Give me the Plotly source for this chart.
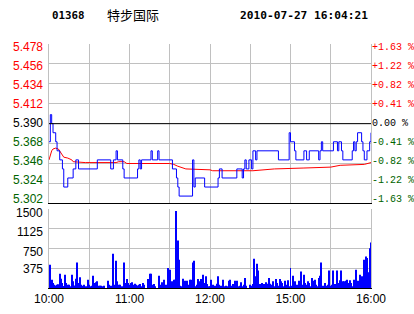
import plotly.graph_objects as go

stock_code = "01368"
stock_name = "特步国际"
stamp = "2010-07-27 16:04:21"
prev_close = 5.390

price_ticks = [5.302, 5.324, 5.346, 5.368, 5.390, 5.412, 5.434, 5.456, 5.478]
pct_labels = ["-1.63 %", "-1.22 %", "-0.82 %", "-0.41 %", "0.00 %",
              "+0.41 %", "+0.82 %", "+1.22 %", "+1.63 %"]
vol_ticks = [375, 750, 1125, 1500]
time_ticks = [0, 30, 60, 90, 120, 150, 180, 210, 240]
time_labels = ["10:00", "", "11:00", "", "12:00", "", "15:00", "", "16:00"]

# price change points (trading minute from 10:00, price)
price_min = [0, 1, 2, 3, 5, 6, 8, 10, 11, 14, 18, 20, 22, 36, 46, 48, 50, 51, 55, 56,
             66, 67, 68, 69, 76, 77, 81, 82, 92, 95, 96, 97, 107, 108, 109, 116, 126, 127, 129, 140,
             144, 145, 146, 147, 149, 151, 152, 154, 155, 171, 179, 180, 183, 184, 190, 192, 194, 201, 202, 203,
             204, 212, 215, 216, 218, 219, 226, 227, 228, 229, 230, 233, 234, 235, 237, 239, 240]
price_val = [5.37, 5.40, 5.39, 5.38, 5.37, 5.36, 5.35, 5.34, 5.32, 5.33, 5.34, 5.35, 5.34, 5.35, 5.34, 5.35, 5.36, 5.35, 5.34, 5.33,
             5.34, 5.35, 5.34, 5.35, 5.36, 5.35, 5.36, 5.35, 5.34, 5.33, 5.32, 5.31, 5.35, 5.32, 5.33, 5.32, 5.33, 5.34, 5.33, 5.34,
             5.33, 5.34, 5.35, 5.34, 5.35, 5.34, 5.36, 5.35, 5.36, 5.35, 5.38, 5.37, 5.36, 5.35, 5.36, 5.35, 5.36, 5.35, 5.36, 5.37,
             5.36, 5.37, 5.36, 5.37, 5.36, 5.35, 5.36, 5.37, 5.36, 5.37, 5.38, 5.37, 5.36, 5.35, 5.36, 5.37, 5.38]

# average price
avg_min = [0, 1, 2, 3, 5, 7, 9, 10, 11, 14, 17, 18, 27, 50, 52, 56, 58, 90, 93, 96,
           98, 102, 120, 122, 152, 168, 190, 210, 217, 235, 240]
avg_val = [5.350, 5.356, 5.360, 5.362, 5.363, 5.362, 5.358, 5.356, 5.353, 5.352, 5.350, 5.348, 5.347, 5.347, 5.348, 5.348, 5.346, 5.346, 5.345, 5.343,
           5.342, 5.340, 5.339, 5.338, 5.338, 5.340, 5.341, 5.342, 5.344, 5.345, 5.347]

vol_min = list(range(1, 241))
volume = [443, 158, 95, 63, 50, 63, 70, 272, 177, 95,
          40, 253, 95, 63, 63, 30, 253, 127, 50, 177,
          487, 95, 203, 63, 44, 63, 30, 20, 158, 63,
          30, 44, 234, 95, 108, 127, 44, 44, 44, 20,
          44, 0, 0, 139, 63, 44, 30, 652, 63, 519,
          127, 63, 63, 20, 30, 487, 95, 171, 95, 63,
          95, 108, 63, 82, 63, 50, 63, 76, 30, 95,
          63, 0, 0, 171, 272, 272, 63, 76, 20, 0,
          0, 234, 63, 108, 44, 158, 63, 20, 380, 348,
          30, 127, 158, 158, 1469, 905, 538, 44, 30, 177,
          139, 30, 139, 63, 158, 158, 487, 519, 30, 63,
          171, 127, 171, 30, 253, 95, 222, 76, 20, 20,
          158, 63, 20, 44, 82, 222, 63, 44, 20, 158,
          20, 44, 20, 139, 158, 44, 76, 20, 139, 139,
          20, 44, 108, 20, 63, 190, 44, 0, 0, 63,
          44, 76, 557, 222, 462, 335, 76, 63, 95, 76,
          44, 108, 82, 190, 82, 63, 127, 30, 171, 95,
          44, 171, 127, 95, 30, 139, 63, 146, 20, 380,
          44, 234, 127, 20, 63, 139, 63, 316, 63, 253,
          95, 63, 127, 95, 20, 190, 139, 158, 63, 20,
          190, 234, 487, 44, 0, 95, 44, 63, 335, 44,
          63, 335, 76, 20, 335, 95, 146, 335, 127, 127,
          139, 158, 95, 146, 95, 20, 158, 20, 348, 139,
          63, 253, 222, 171, 538, 601, 570, 298, 760, 867]

RED, GREEN, BLACK, GRID = "#ff0000", "#006400", "#000000", "#c0c0c0"


def col(v):
    if abs(v - prev_close) < 1e-9:
        return BLACK
    return RED if v > prev_close else GREEN


fig = go.Figure()
fig.add_trace(go.Scatter(x=avg_min, y=avg_val, mode="lines", xaxis="x", yaxis="y",
                         line=dict(color="#ff0000", width=1), hoverinfo="skip"))
fig.add_trace(go.Scatter(x=price_min, y=price_val, mode="lines", xaxis="x", yaxis="y",
                         line=dict(color="#0000ff", width=1, shape="hv"), hoverinfo="skip"))
fig.add_trace(go.Bar(x=vol_min, y=volume, xaxis="x2", yaxis="y3", width=0.75,
                     marker=dict(color="#0000ff", line=dict(width=0)), hoverinfo="skip"))

fig.add_shape(type="line", xref="x domain", yref="y", x0=0, x1=1, y0=prev_close, y1=prev_close,
              line=dict(color=BLACK, width=1))

annotations = []
n = len(price_ticks)
for k, (v, pct) in enumerate(zip(price_ticks, pct_labels)):
    shift = 4 - k * 7.0 / (n - 1)
    c = col(v)
    annotations.append(dict(text=f"{v:.3f}", xref="paper", yref="y", x=0, y=v, xanchor="right",
                            yanchor="middle", xshift=-4, yshift=shift, showarrow=False,
                            font=dict(family="Liberation Sans", size=12, color=c)))
    annotations.append(dict(text=pct, xref="paper", yref="y", x=1, y=v, xanchor="left",
                            yanchor="middle", xshift=-1, yshift=shift, showarrow=False,
                            font=dict(family="Liberation Mono", size=10, color=c)))
vol_shift = [-1, -3, -3.4, -3.7]
for v, s in zip(vol_ticks, vol_shift):
    annotations.append(dict(text=str(v), xref="paper", yref="y3", x=0, y=v, xanchor="right",
                            yanchor="middle", xshift=-4, yshift=s, showarrow=False,
                            font=dict(family="Liberation Sans", size=12, color=BLACK)))
annotations += [
    dict(text=f"<b>{stock_code}</b>", xref="paper", yref="paper", x=0.003, y=1.115,
         xanchor="left", yanchor="middle", showarrow=False,
         font=dict(family="DejaVu Sans Mono", size=10.8, color=BLACK)),
    dict(text=stock_name, xref="paper", yref="paper", x=0.174, y=1.12,
         xanchor="left", yanchor="middle", showarrow=False,
         font=dict(family="Noto Sans CJK SC", size=13, color=BLACK)),
    dict(text=f"<b>{stamp}</b>", xref="paper", yref="paper", x=0.997, y=1.115,
         xanchor="right", yanchor="middle", showarrow=False,
         font=dict(family="DejaVu Sans Mono", size=11.2, color=BLACK)),
]

yr = [price_ticks[0], price_ticks[-1]]
fig.update_layout(
    width=414, height=314,
    margin=dict(l=49, r=43, t=44, b=26, autoexpand=False),
    paper_bgcolor="white", plot_bgcolor="white",
    showlegend=False,
    xaxis=dict(domain=[0, 1], anchor="y", range=[0, 240], tickvals=time_ticks,
               showticklabels=False, showgrid=True, gridcolor=GRID, gridwidth=1,
               showline=True, linecolor=BLACK, linewidth=1, zeroline=False, ticks="",
               automargin=False),
    yaxis=dict(domain=[0.347, 1], anchor="x", range=yr, tickvals=price_ticks,
               showticklabels=False, showgrid=True, gridcolor=GRID, showline=True,
               linecolor=GRID, mirror=True, zeroline=False, ticks="", automargin=False),
    xaxis2=dict(domain=[0, 1], anchor="y3", range=[0, 240], tickvals=time_ticks, ticktext=time_labels,
                showgrid=True, gridcolor=GRID, showline=True, linecolor=BLACK, zeroline=False,
                ticks="", automargin=False,
                tickfont=dict(family="Liberation Sans", size=12, color=BLACK)),
    yaxis3=dict(domain=[0, 0.3225], anchor="x2", range=[0, 1500], tickvals=vol_ticks,
                showticklabels=False, showgrid=True, gridcolor=GRID, showline=True,
                linecolor=GRID, mirror=True, zeroline=False, ticks="", automargin=False),
    annotations=annotations,
)

fig.write_html("out.html")
